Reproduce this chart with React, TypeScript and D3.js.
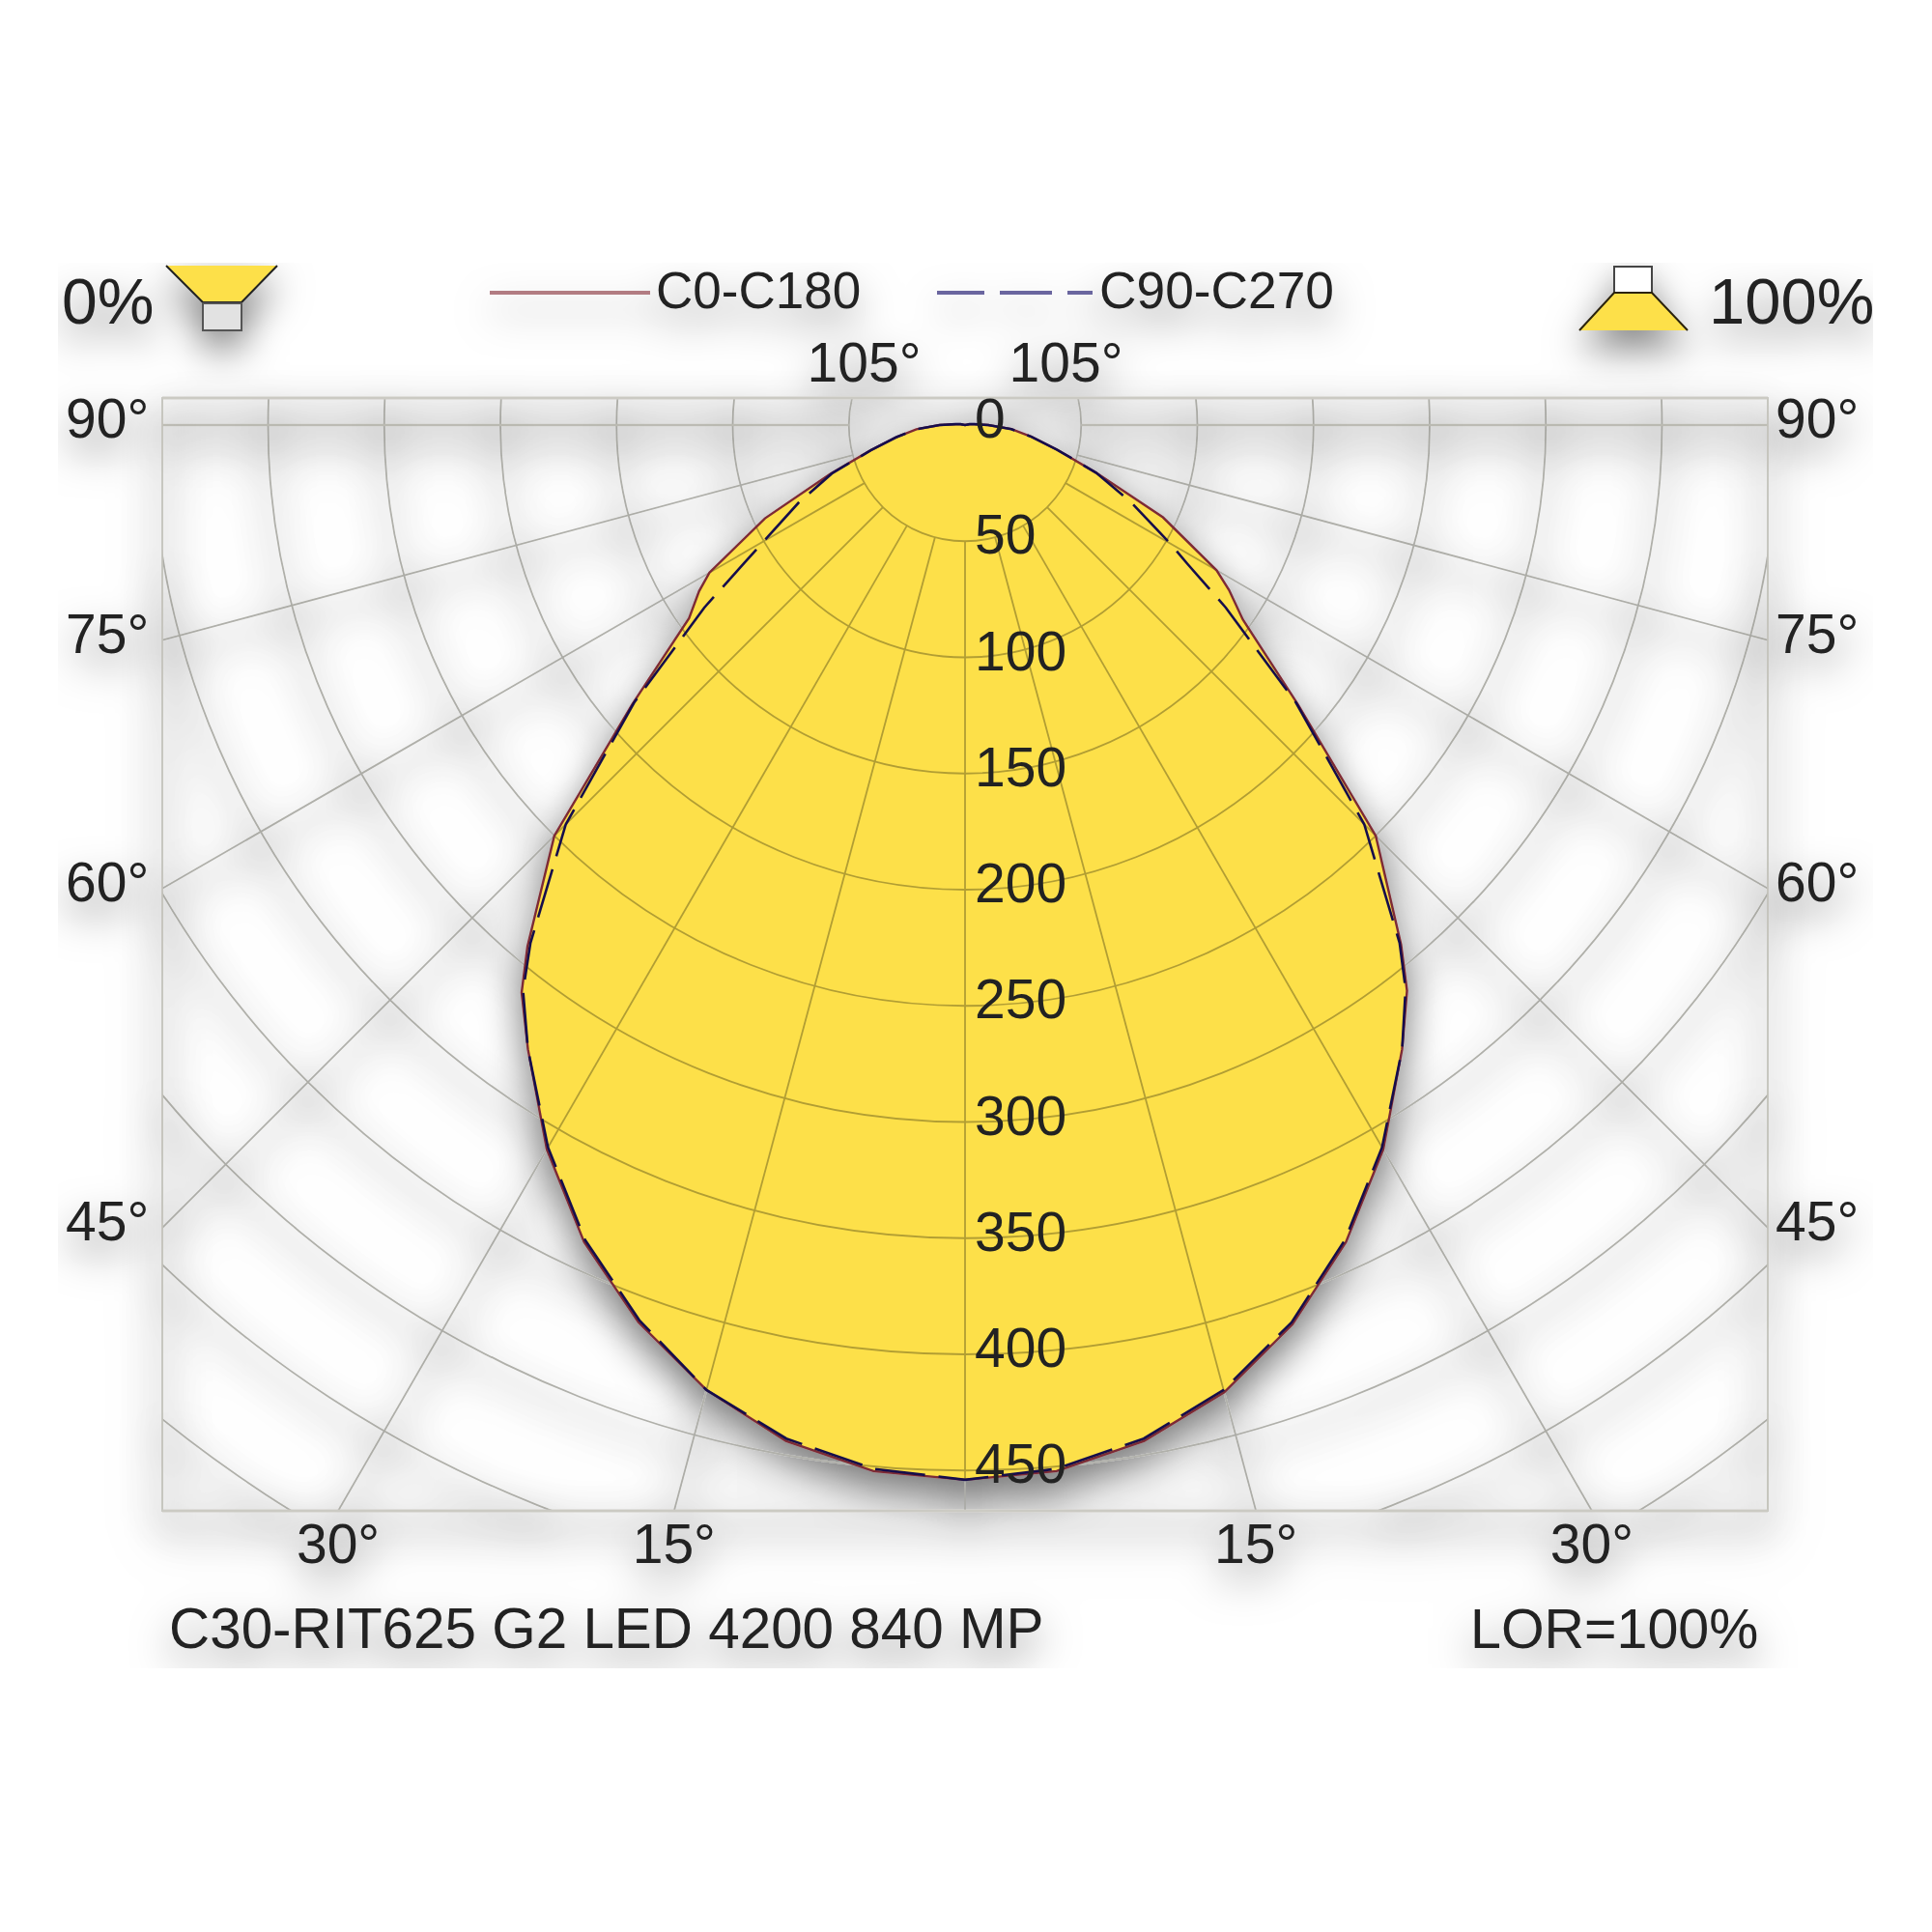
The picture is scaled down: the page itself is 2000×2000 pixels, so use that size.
import { useEffect, useRef } from "react";
import * as d3 from "d3";

// luminous intensity (cd/klm), angle from nadir
const gammaAngles = [0, 5, 10, 15, 20, 25, 30, 35, 38, 40, 45, 50, 55, 58, 60, 65, 70, 75, 80, 85, 90, 95, 100, 105];
const c0Values = [454, 452, 444, 431, 412, 388, 360, 328, 309, 292, 250, 187, 146, 134, 125, 94, 60, 41, 29, 20, 10, 4, 2, 0];
const c180Values = [454, 452, 444, 430, 411, 388, 360, 328, 310, 293, 250, 187, 145, 135, 127, 95, 62, 42, 30, 21, 11, 4, 2, 0];
const c90Values = [454, 451, 443, 430, 411, 387, 359, 328, 308, 291, 243, 186, 137, 113, 102, 79, 60, 41, 29, 20, 10, 4, 2, 0];
const c270Values = [454, 451, 443, 430, 410, 387, 359, 328, 309, 291, 243, 186, 137, 112, 100, 79, 61, 42, 30, 21, 11, 4, 2, 0];

const ringValues = [50, 100, 150, 200, 250, 300, 350, 400, 450, 500, 550];
const scaleLabels = [0, 50, 100, 150, 200, 250, 300, 350, 400, 450];
const spokeAngles = [0, 15, 30, 45, 60, 75, 90, 105];
const sideAngles = [90, 75, 60, 45];
const bottomAngles = [30, 15];
const topAngle = 105;

const seriesNames = ["C0-C180", "C90-C270"];
const lumName = "C30-RIT625 G2 LED 4200 840 MP";
const lorLabel = "LOR=100%";
const downLabel = "0%";
const upLabel = "100%";

const FONT = "'Liberation Sans', Arial, sans-serif";
const TEXT = "#242424";
const YELLOW = "#fde04a";
const RED = "#7d2a34";
const BLUE = "#17104c";

const frame = { left: 168, right: 1830, top: 412, bottom: 1564 };
const cx = 999;
const cy = 440;

const App = () => {
  const svgRef = useRef<SVGSVGElement | null>(null);

  useEffect(() => {
    const svg = d3.select(svgRef.current);
    svg.selectAll("*").remove();

    const rScale = d3.scaleLinear().domain([0, 500]).range([0, 1202.5]);
    const rad = d3.scaleLinear().domain([0, 180]).range([0, Math.PI]);

    const defs = svg.append("defs");
    defs
      .append("clipPath")
      .attr("id", "crop")
      .append("rect")
      .attr("x", 60)
      .attr("y", 272)
      .attr("width", 1879)
      .attr("height", 1455);
    defs
      .append("clipPath")
      .attr("id", "frameClip")
      .append("rect")
      .attr("x", frame.left)
      .attr("y", frame.top)
      .attr("width", frame.right - frame.left)
      .attr("height", frame.bottom - frame.top);
    defs
      .append("filter")
      .attr("id", "shade")
      .attr("filterUnits", "userSpaceOnUse")
      .attr("x", 0)
      .attr("y", 200)
      .attr("width", 2000)
      .attr("height", 1600)
      .append("feDropShadow")
      .attr("dx", 0)
      .attr("dy", 18)
      .attr("stdDeviation", 20)
      .attr("flood-color", "#000")
      .attr("flood-opacity", 0.52);
    defs
      .append("filter")
      .attr("id", "soft")
      .attr("filterUnits", "userSpaceOnUse")
      .attr("x", 0)
      .attr("y", 200)
      .attr("width", 2000)
      .attr("height", 1600)
      .append("feGaussianBlur")
      .attr("stdDeviation", 22);

    const root = svg
      .append("g")
      .attr("clip-path", "url(#crop)")
      .append("g")
      .attr("filter", "url(#shade)");

    // grid rings and spokes, used for the soft shade and for the real lines
    const spokeEnds = spokeAngles.flatMap((a) => (a === 0 ? [0] : [a, -a]));
    const drawGrid = (parent: d3.Selection<SVGGElement, unknown, null, undefined>, ring: string, spoke: string, wide: string) => {
      const g = parent.append("g").attr("transform", `translate(${cx},${cy})`);
      g.selectAll("circle")
        .data(ringValues)
        .enter()
        .append("circle")
        .attr("r", (d) => rScale(d))
        .attr("fill", "none")
        .attr("stroke", ring)
        .attr("stroke-width", 1.8);
      g.selectAll("line")
        .data(spokeEnds)
        .enter()
        .append("line")
        .attr("x1", (d) => rScale(50) * Math.sin(rad(d)))
        .attr("y1", (d) => rScale(50) * Math.cos(rad(d)))
        .attr("x2", (d) => 2000 * Math.sin(rad(d)))
        .attr("y2", (d) => 2000 * Math.cos(rad(d)))
        .attr("stroke", (d) => (Math.abs(d) === 90 ? wide : spoke))
        .attr("stroke-width", (d) => (Math.abs(d) === 90 ? 2.6 : 1.8));
    };

    const soft = root
      .append("g")
      .attr("filter", "url(#soft)")
      .attr("opacity", 0.75)
      .append("g")
      .attr("transform", "translate(0,14)")
      .append("g")
      .attr("clip-path", "url(#frameClip)");
    drawGrid(soft as any, "#000", "#000", "#000");
    soft
      .append("rect")
      .attr("x", frame.left)
      .attr("y", frame.top)
      .attr("width", frame.right - frame.left)
      .attr("height", frame.bottom - frame.top)
      .attr("fill", "none")
      .attr("stroke", "#000")
      .attr("stroke-width", 5);

    // closed outline of one C-plane pair, right half then left half
    const outline = (right: number[], left: number[]) => {
      const pts: [number, number][] = [
        ...gammaAngles.map((a, i) => [Math.PI - rad(a), rScale(right[i])] as [number, number]).reverse(),
        ...gammaAngles.map((a, i) => [Math.PI + rad(a), rScale(left[i])] as [number, number]),
      ];
      return d3.lineRadial().curve(d3.curveLinearClosed)(pts);
    };

    const polar = root.append("g").attr("transform", `translate(${cx},${cy})`);
    polar.append("path").attr("d", outline(c0Values, c180Values)).attr("fill", YELLOW);
    polar.append("path").attr("d", outline(c90Values, c270Values)).attr("fill", YELLOW);

    // grid is multiplied so it goes olive over the yellow
    const grid = root
      .append("g")
      .attr("clip-path", "url(#frameClip)")
      .style("mix-blend-mode", "multiply");
    drawGrid(grid as any, "#b4b4ae", "#b4b4ae", "#c8c7bf");

    const box = root.append("g").attr("fill", "none");
    box
      .append("rect")
      .attr("x", frame.left)
      .attr("y", frame.top)
      .attr("width", frame.right - frame.left)
      .attr("height", frame.bottom - frame.top)
      .attr("stroke", "#c2c1ba")
      .attr("stroke-width", 1.8);
    box
      .append("path")
      .attr("d", `M${frame.left},${frame.top}H${frame.right}M${frame.left},${frame.bottom}H${frame.right}`)
      .attr("stroke", "#cbcac3")
      .attr("stroke-width", 3);

    const curves = root.append("g").attr("transform", `translate(${cx},${cy})`).attr("fill", "none");
    curves
      .append("path")
      .attr("d", outline(c0Values, c180Values))
      .attr("stroke", RED)
      .attr("stroke-width", 2.4);
    curves
      .append("path")
      .attr("d", outline(c90Values, c270Values))
      .attr("stroke", BLUE)
      .attr("stroke-width", 2.6)
      .attr("stroke-dasharray", "52 14");

    const label = (txt: string, x: number, y: number, size: number, anchor = "start") =>
      root
        .append("text")
        .attr("x", x)
        .attr("y", y)
        .attr("text-anchor", anchor)
        .style("font-family", FONT)
        .style("font-size", `${size}px`)
        .style("fill", TEXT)
        .text(txt);

    // scale values down the nadir axis
    scaleLabels.forEach((v) => label(String(v), 1009, cy + rScale(v) + 13, 57));

    // angle labels sit where each spoke leaves the frame
    const halfW = cx - frame.left;
    sideAngles.forEach((a) => {
      const y = (a === 90 ? cy : cy + halfW / Math.tan(rad(a))) + 13;
      label(`${a}°`, frame.left - 100, y, 57);
      label(`${a}°`, frame.right + 8, y, 57);
    });
    bottomAngles.forEach((a) => {
      const dx = (frame.bottom - cy) * Math.tan(rad(a));
      label(`${a}°`, cx - dx, 1618, 57, "middle");
      label(`${a}°`, cx + dx, 1618, 57, "middle");
    });
    const topDx = (cy - frame.top) / Math.tan(rad(topAngle - 90));
    label(`${topAngle}°`, cx - topDx, 395, 57, "middle");
    label(`${topAngle}°`, cx + topDx, 395, 57, "middle");

    label(lumName, 175, 1706, 58.4);
    label(lorLabel, 1522, 1706, 57.4);
    label(downLabel, 64, 335, 66);
    label(upLabel, 1769, 335, 67);

    // legend
    label(seriesNames[0], 679, 319, 53);
    label(seriesNames[1], 1138, 319, 53.3);
    root
      .append("line")
      .attr("x1", 507)
      .attr("x2", 673)
      .attr("y1", 303)
      .attr("y2", 303)
      .attr("stroke", "#b27c82")
      .attr("stroke-width", 4);
    root
      .append("line")
      .attr("x1", 970)
      .attr("x2", 1131)
      .attr("y1", 303)
      .attr("y2", 303)
      .attr("stroke", "#6a669f")
      .attr("stroke-width", 4)
      .attr("stroke-dasharray", "54 16")
      .attr("stroke-dashoffset", 5);

    // downward icon
    const down = root.append("g");
    down
      .append("path")
      .attr("d", "M172,275L210,313H250L287,275Z")
      .attr("fill", YELLOW);
    down
      .append("path")
      .attr("d", "M172,275L210,313H250L287,275")
      .attr("fill", "none")
      .attr("stroke", "#222")
      .attr("stroke-width", 2);
    down
      .append("rect")
      .attr("x", 210)
      .attr("y", 314)
      .attr("width", 40)
      .attr("height", 28)
      .attr("fill", "#e2e2e2")
      .attr("stroke", "#555")
      .attr("stroke-width", 2);

    // upward icon
    const up = root.append("g");
    up.append("rect")
      .attr("x", 1671)
      .attr("y", 276)
      .attr("width", 39)
      .attr("height", 27)
      .attr("fill", "#fff")
      .attr("stroke", "#444")
      .attr("stroke-width", 2);
    up.append("path").attr("d", "M1671,303L1635,342H1747L1710,303Z").attr("fill", YELLOW);
    up.append("path")
      .attr("d", "M1635,342L1671,303H1710L1747,342")
      .attr("fill", "none")
      .attr("stroke", "#2a2410")
      .attr("stroke-width", 2);
  }, []);

  return (
    <svg
      ref={svgRef}
      width={2000}
      height={2000}
      style={{ position: "absolute", left: 0, top: 0, background: "#fff" }}
    />
  );
};

export default App;
